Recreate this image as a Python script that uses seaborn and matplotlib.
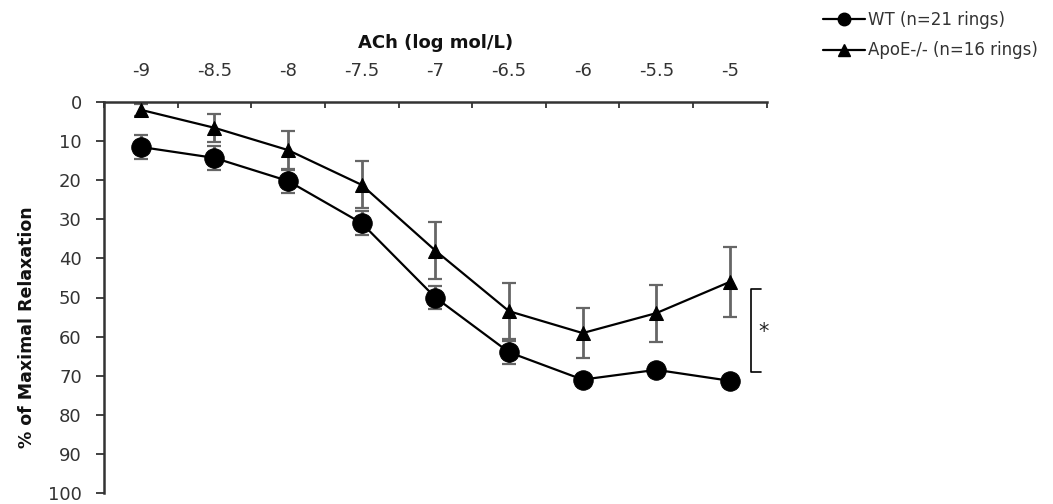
import numpy as np
import pandas as pd
import matplotlib
matplotlib.use("Agg")
import matplotlib.pyplot as plt
import seaborn as sns
from matplotlib.lines import Line2D

# Data
log_conc = [-9, -8.5, -8, -7.5, -7, -6.5, -6, -5.5, -5]
tick_labels = ["-9", "-8.5", "-8", "-7.5", "-7", "-6.5", "-6", "-5.5", "-5"]
wt_mean = [11.5, 14.3, 20.2, 31.0, 50.0, 64.0, 71.0, 68.5, 71.3]
wt_err = [3, 3, 3, 3, 3, 3, 1.5, 1, 1]
apoe_mean = [2.0, 6.6, 12.3, 21.2, 38.0, 53.5, 59.1, 54.0, 46.0]
apoe_err = [1.5, 3.6, 5.0, 6.0, 7.3, 7.2, 6.5, 7.3, 9.0]
wt_label = "WT (n=21 rings)"
apoe_label = "ApoE-/- (n=16 rings)"

sns.set_style("white")
plt.rcParams["font.family"] = ["DejaVu Sans"]

df = pd.DataFrame({
    "logc": log_conc * 2,
    "val": wt_mean + apoe_mean,
    "group": [wt_label] * len(log_conc) + [apoe_label] * len(log_conc),
})

fig = plt.figure(figsize=(10.53, 5.04), dpi=100)
ax = fig.add_axes([104 / 1053, 1 - 493 / 504, (766.7 - 104) / 1053, (493 - 102) / 504])

# error bars first (under markers)
ax.errorbar(log_conc, apoe_mean, yerr=apoe_err, fmt="none", ecolor="#666666",
            elinewidth=2, capsize=5, capthick=1.6, zorder=2)
ax.errorbar(log_conc, wt_mean, yerr=wt_err, fmt="none", ecolor="#666666",
            elinewidth=2, capsize=5, capthick=1.6, zorder=2)

sns.lineplot(data=df[df.group == wt_label], x="logc", y="val", ax=ax, color="black",
             marker="o", markersize=14, linewidth=1.6, markeredgecolor="black",
             legend=False, zorder=3)
sns.lineplot(data=df[df.group == apoe_label], x="logc", y="val", ax=ax, color="black",
             marker="^", markersize=9.5, linewidth=1.6, markeredgecolor="black",
             legend=False, zorder=3)

ax.set_xlim(-9.25, -4.75)
ax.set_ylim(100, 0)
ax.xaxis.set_ticks_position("top")
ax.xaxis.set_label_position("top")
ax.set_xticks(log_conc)
ax.set_xticklabels(tick_labels, fontsize=13, color="#333333")
ax.set_xticks(np.arange(-9.25, -4.74, 0.5), minor=True)
ax.tick_params(axis="x", which="major", length=0, pad=16)
ax.tick_params(axis="x", which="minor", length=4, width=1.3, direction="in", color="#333333")
ax.set_yticks(np.arange(0, 101, 10))
ax.tick_params(axis="y", which="major", length=6, width=1.3, direction="out",
               labelsize=13, labelcolor="#333333", color="#333333", left=True, pad=10)
ax.set_xlabel("ACh (log mol/L)", fontsize=13, fontweight="bold", labelpad=10, color="#111111")
ax.set_ylabel("% of Maximal Relaxation", fontsize=12.5, fontweight="bold", color="#111111")
ax.yaxis.set_label_coords(-(104 - 36) / (766.7 - 104), (493 - 327) / (493 - 102))

for s in ["right", "bottom"]:
    ax.spines[s].set_visible(False)
for s in ["top", "left"]:
    ax.spines[s].set_color("#333333")
    ax.spines[s].set_linewidth(1.8)

# significance bracket
bx0, bx1 = -4.855, -4.790
ax.plot([bx1, bx0, bx0, bx1], [47.7, 47.7, 69.1, 69.1], color="black", lw=1.2, clip_on=False)
ax.text(-4.772, 58.7, "*", fontsize=15, ha="center", va="center")

handles = [
    Line2D([0], [0], color="black", lw=1.6, marker="o", markersize=9),
    Line2D([0], [0], color="black", lw=1.6, marker="^", markersize=8),
]
fig.legend(handles, [wt_label, apoe_label], loc="upper left",
           bbox_to_anchor=(808 / 1053, 1.0 + 4 / 504), frameon=False, fontsize=12,
           handlelength=2.5, handletextpad=0.2, labelspacing=0.75,
           labelcolor="#333333")

fig.savefig("out.png", dpi=100)
